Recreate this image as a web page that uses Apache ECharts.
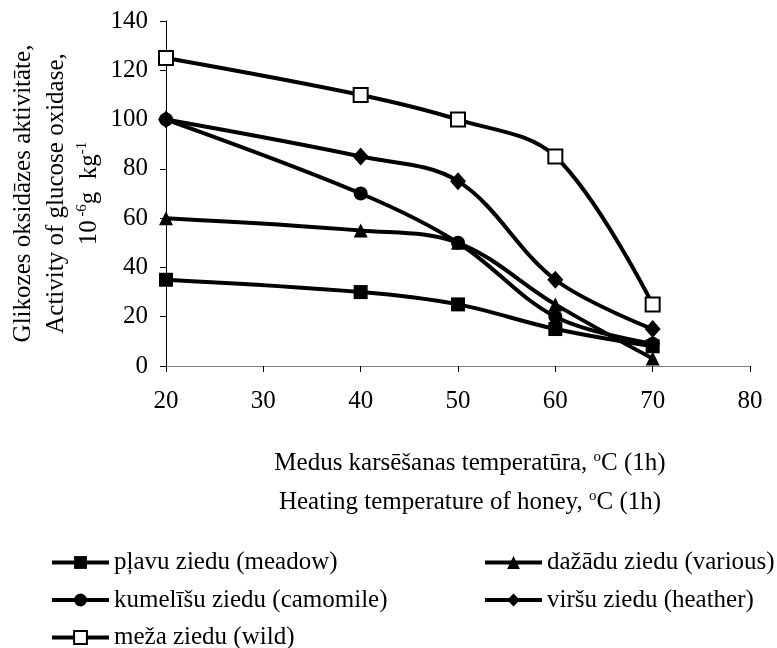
<!DOCTYPE html>
<html>
<head>
<meta charset="utf-8">
<script src="https://cdn.jsdelivr.net/npm/echarts@6/dist/echarts.min.js"></script>
<style>
  html, body { margin: 0; padding: 0; background: #fff; }
  #main { width: 777px; height: 648px; }
</style>
</head>
<body>
<div id="main"></div>
<script>
// temperatures (x) and glucose oxidase activity per honey type
const temps = [20, 40, 50, 60, 70];
const meadow = [35, 30, 25, 15, 8];
const various = [60, 55, 50, 25, 3];
const camomile = [100, 70, 50, 20, 9];
const heather = [100, 85, 75, 35, 15];
const wild = [125, 110, 100, 85, 25];

const names = [
  'pļavu ziedu (meadow)',
  'dažādu ziedu (various)',
  'kumelīšu ziedu (camomile)',
  'viršu ziedu (heather)',
  'meža ziedu (wild)'
];

const font = 'Times New Roman, Liberation Serif, serif';
const pairs = (ys) => temps.map((t, i) => [t, ys[i]]);

function line(name, ys, symbol, size, open) {
  return {
    name: name,
    type: 'line',
    smooth: 0.35,
    data: pairs(ys),
    symbol: symbol,
    symbolSize: size,
    showAllSymbol: true,
    lineStyle: { color: '#000', width: 4 },
    itemStyle: open
      ? { color: '#fff', borderColor: '#000', borderWidth: 2 }
      : { color: '#000', borderWidth: 0 },
    emphasis: { disabled: true }
  };
}

const chart = echarts.init(document.getElementById('main'));
const legendCommon = {
  orient: 'vertical',
  top: 550,
  height: 100,
  padding: 0,
  itemWidth: 57,
  itemHeight: 16,
  itemGap: 12.5,
  lineStyle: { width: 4, color: '#000' },
  textStyle: { fontFamily: font, fontSize: 25, color: '#000', lineHeight: 25 },
  selectedMode: false
};

chart.setOption({
  animation: false,
  textStyle: { fontFamily: font },
  grid: { left: 166, right: 27, top: 21, bottom: 282, outerBoundsMode: 'none', containLabel: false },
  legend: [
    Object.assign({ left: 50, data: [names[0], names[2], names[4]] }, legendCommon),
    Object.assign({ left: 483, data: [names[1], names[3]] }, legendCommon)
  ],
  xAxis: {
    type: 'value',
    min: 20, max: 80, interval: 10,
    name: 'Medus karsēšanas temperatūra, {s|o}C (1h)\nHeating temperature of honey, {s|o}C (1h)',
    nameLocation: 'middle',
    nameGap: 78,
    nameMoveOverlap: false,
    nameTextStyle: {
      fontFamily: font, fontSize: 25, color: '#000', lineHeight: 39,
      padding: [0, 0, 0, 24],
      rich: { s: { fontFamily: font, fontSize: 15, color: '#000', padding: [0, 0, 12, 0] } }
    },
    axisLine: { lineStyle: { color: '#808080', width: 1 } },
    axisTick: { show: true, length: 6, lineStyle: { color: '#000' } },
    splitLine: { show: false },
    axisLabel: { fontFamily: font, fontSize: 25, color: '#000', margin: 23 }
  },
  yAxis: {
    type: 'value',
    min: 0, max: 140, interval: 20,
    name: 'Glikozes oksidāzes aktivitāte,\nActivity of glucose oxidase,\n10{s| -6}g  kg{s|-1}',
    nameLocation: 'middle',
    nameRotate: 90,
    nameGap: 60,
    nameMoveOverlap: false,
    nameTextStyle: {
      fontFamily: font, fontSize: 25, color: '#000', lineHeight: 33,
      rich: { s: { fontFamily: font, fontSize: 15, color: '#000', padding: [0, 0, 14, 0] } }
    },
    axisLine: { show: true, lineStyle: { color: '#000', width: 1 } },
    axisTick: { show: true, length: 6, lineStyle: { color: '#000' } },
    splitLine: { show: false },
    axisLabel: { fontFamily: font, fontSize: 25, color: '#000', margin: 18 }
  },
  series: [
    line(names[0], meadow, 'rect', 14, false),
    line(names[1], various, 'triangle', 14, false),
    line(names[2], camomile, 'circle', 14, false),
    line(names[3], heather, 'diamond', [16, 18], false),
    line(names[4], wild, 'rect', 14, true)
  ]
});
</script>
</body>
</html>
